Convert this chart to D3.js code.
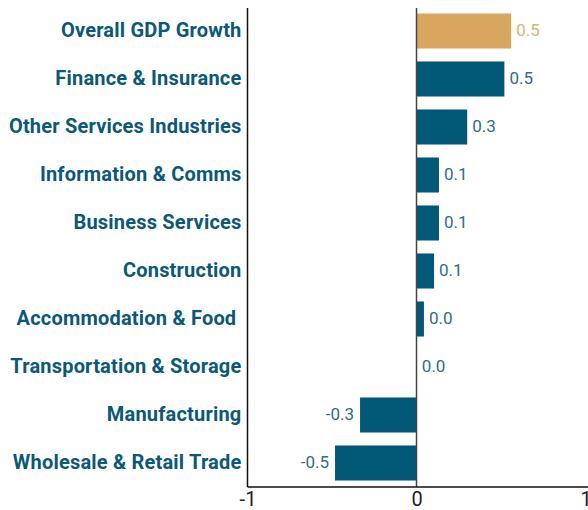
<!DOCTYPE html>
<html>
<head>
<meta charset="utf-8">
<script src="https://cdn.jsdelivr.net/npm/d3@7"></script>
<style>
  body { margin: 0; background: #fff; }
  svg { display: block; }
</style>
</head>
<body>
<div id="chart"></div>
<script>
// chart data
var categories = ["Overall GDP Growth", "Finance & Insurance", "Other Services Industries",
  "Information & Comms", "Business Services", "Construction", "Accommodation & Food ",
  "Transportation & Storage", "Manufacturing", "Wholesale & Retail Trade"];
var values = [0.56, 0.52, 0.30, 0.133, 0.133, 0.104, 0.044, 0.002, -0.334, -0.482];
var valueLabels = ["0.5", "0.5", "0.3", "0.1", "0.1", "0.1", "0.0", "0.0", "-0.3", "-0.5"];
var xTicks = [-1, 0, 1];

var width = 588, height = 510;
var svg = d3.select("#chart").append("svg")
  .attr("width", width)
  .attr("height", height);

// scales
var x = d3.scaleLinear().domain([-1, 1]).range([247.5, 585.5]);
var y = d3.scaleBand().domain(categories).range([7, 487]).paddingInner(0.27).paddingOuter(0.135);

// bars
svg.selectAll(".bar")
  .data(values)
  .enter()
  .append("rect")
  .attr("class", "bar")
  .attr("x", function(d) { return x(Math.min(0, d)); })
  .attr("y", function(d, i) { return y(categories[i]); })
  .attr("width", function(d) { return Math.abs(x(d) - x(0)); })
  .attr("height", y.bandwidth())
  .attr("fill", function(d, i) { return i == 0 ? "#d8a65e" : "#015877"; });

// value labels
svg.selectAll(".val")
  .data(values)
  .enter()
  .append("text")
  .attr("class", "val")
  .attr("x", function(d) { return d < 0 ? x(d) - 6 : x(d) + 5; })
  .attr("y", function(d, i) { return y(categories[i]) + y.bandwidth() / 2; })
  .attr("dy", "0.3em")
  .attr("text-anchor", function(d) { return d < 0 ? "end" : "start"; })
  .attr("font-family", "Roboto")
  .attr("font-size", 17)
  .attr("fill", function(d, i) { return i == 0 ? "#e2b370" : "#2e6d8c"; })
  .text(function(d, i) { return valueLabels[i]; });

// zero line
svg.append("line")
  .attr("x1", x(0)).attr("x2", x(0))
  .attr("y1", 8).attr("y2", 487)
  .attr("stroke", "#444")
  .attr("stroke-width", 1.5);

// left axis with category names
var yAxis = svg.append("g")
  .attr("transform", "translate(" + x(-1) + ",0)")
  .call(d3.axisLeft(y).tickSize(0).tickPadding(6));
yAxis.select(".domain").attr("d", "M0,8V487").attr("stroke", "#111").attr("stroke-width", 1.5);
yAxis.selectAll("text")
  .attr("dy", "0.3em")
  .style("white-space", "pre")
  .attr("font-family", "Roboto")
  .attr("font-weight", "bold")
  .attr("font-size", 20)
  .attr("letter-spacing", 0.2)
  .attr("fill", "#0b5877");

// bottom axis
var xAxis = svg.append("g")
  .attr("transform", "translate(0,487)")
  .call(d3.axisBottom(x).tickValues(xTicks).tickSize(0).tickPadding(5).tickFormat(function(d) { return String(d); }));
xAxis.select(".domain").attr("d", "M" + x(-1) + ",0H" + width).attr("stroke", "#111").attr("stroke-width", 1.5);
xAxis.selectAll("text")
  .attr("font-family", "Roboto")
  .attr("font-size", 20)
  .attr("fill", "#222");
</script>
</body>
</html>
